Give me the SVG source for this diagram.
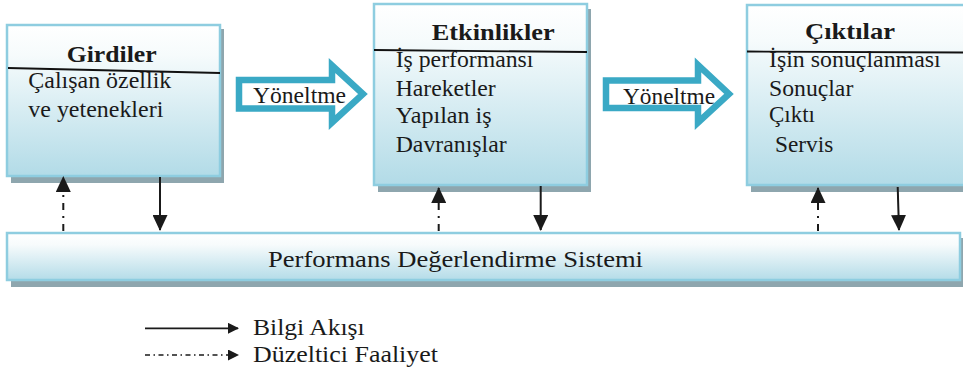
<svg xmlns="http://www.w3.org/2000/svg" width="963" height="376" viewBox="0 0 963 376" font-family="Liberation Serif">
  <defs>
    <linearGradient id="boxFill" x1="0" y1="0" x2="0" y2="1">
      <stop offset="0" stop-color="#ffffff"/>
      <stop offset="0.2" stop-color="#f6fbfc"/>
      <stop offset="1" stop-color="#b2dbe7"/>
    </linearGradient>
    <linearGradient id="barFill" x1="0" y1="0" x2="0" y2="1">
      <stop offset="0" stop-color="#ffffff"/>
      <stop offset="0.25" stop-color="#f7fbfc"/>
      <stop offset="1" stop-color="#b4dce8"/>
    </linearGradient>
    <marker id="head" viewBox="0 0 16 15" refX="15" refY="7.5" markerWidth="16" markerHeight="15" markerUnits="userSpaceOnUse" orient="auto">
      <path d="M0,0 L16,7.5 L0,15 Z" fill="#1a1a1a"/>
    </marker>
    <marker id="headSmall" viewBox="0 0 11 11" refX="10" refY="5.5" markerWidth="11" markerHeight="11" markerUnits="userSpaceOnUse" orient="auto">
      <path d="M0,0 L11,5.5 L0,11 Z" fill="#1a1a1a"/>
    </marker>
  </defs>
  <style>
    .shadow { fill: #8ea6ae; }
    .box { fill: url(#boxFill); stroke: #8ecde0; stroke-width: 2.5; }
    .bar { fill: url(#barFill); stroke: #8ecde0; stroke-width: 2.5; }
    .rule { stroke: #111111; stroke-width: 1.8; fill: none; }
    .title { font-weight: bold; font-size: 24px; fill: #1a1a1a; }
    .txt { font-size: 22.5px; fill: #1a1a1a; }
    .block { fill: #ffffff; stroke: #3aa9c5; stroke-width: 6.5; stroke-linejoin: miter; }
    .info { stroke: #1a1a1a; stroke-width: 2; fill: none; marker-end: url(#head); }
    .fix { stroke: #1a1a1a; stroke-width: 2; fill: none; stroke-dasharray: 7 6 2 6; marker-end: url(#head); }
    .legInfo { stroke: #1a1a1a; stroke-width: 1.8; fill: none; marker-end: url(#headSmall); }
    .legFix { stroke: #1a1a1a; stroke-width: 1.6; fill: none; stroke-dasharray: 5 3.5 1.5 3.5; marker-end: url(#headSmall); }
  </style>

  <!-- Inputs -->
  <g id="girdiler">
    <rect class="shadow" x="11" y="29" width="213" height="154"/>
    <rect class="box" x="7" y="25" width="213" height="151"/>
    <line class="rule" x1="8" y1="68" x2="220" y2="73"/>
    <text class="title" font-family="Liberation Serif" x="66.7" y="61.7" textLength="90" lengthAdjust="spacingAndGlyphs">Girdiler</text>
    <text class="txt" font-family="Liberation Serif" x="28.3" y="88.3" textLength="143" lengthAdjust="spacingAndGlyphs">Çalışan özellik</text>
    <text class="txt" font-family="Liberation Serif" x="28.3" y="117.3" textLength="135" lengthAdjust="spacingAndGlyphs">ve yetenekleri</text>
  </g>

  <!-- Activities -->
  <g id="etkinlikler">
    <rect class="shadow" x="378" y="9" width="213" height="183"/>
    <rect class="box" x="374" y="4" width="213" height="181"/>
    <line class="rule" x1="374" y1="50" x2="587" y2="52"/>
    <text class="title" font-family="Liberation Serif" x="431.7" y="40" textLength="123" lengthAdjust="spacingAndGlyphs">Etkinlikler</text>
    <text class="txt" font-family="Liberation Serif" x="395.7" y="66.7" textLength="137.7" lengthAdjust="spacingAndGlyphs">İş performansı</text>
    <text class="txt" font-family="Liberation Serif" x="395.7" y="95.7" textLength="100" lengthAdjust="spacingAndGlyphs">Hareketler</text>
    <text class="txt" font-family="Liberation Serif" x="395.7" y="122.7" textLength="96" lengthAdjust="spacingAndGlyphs">Yapılan iş</text>
    <text class="txt" font-family="Liberation Serif" x="395.7" y="151.7" textLength="111" lengthAdjust="spacingAndGlyphs">Davranışlar</text>
  </g>

  <!-- Outputs -->
  <g id="ciktilar">
    <rect class="shadow" x="751" y="10" width="230" height="182"/>
    <rect class="box" x="747" y="5" width="230" height="180"/>
    <line class="rule" x1="747" y1="51.5" x2="963" y2="52.5"/>
    <text class="title" font-family="Liberation Serif" x="805" y="39" textLength="90" lengthAdjust="spacingAndGlyphs">Çıktılar</text>
    <text class="txt" font-family="Liberation Serif" x="769" y="66.7" textLength="171.7" lengthAdjust="spacingAndGlyphs">İşin sonuçlanması</text>
    <text class="txt" font-family="Liberation Serif" x="769" y="95.7" textLength="84.3" lengthAdjust="spacingAndGlyphs">Sonuçlar</text>
    <text class="txt" font-family="Liberation Serif" x="769" y="121.7" textLength="46" lengthAdjust="spacingAndGlyphs">Çıktı</text>
    <text class="txt" font-family="Liberation Serif" x="775" y="151.7" textLength="58.3" lengthAdjust="spacingAndGlyphs">Servis</text>
  </g>

  <!-- Evaluation system bar -->
  <g id="sistem">
    <rect class="shadow" x="11" y="238" width="952" height="49"/>
    <rect class="bar" x="7" y="233" width="953" height="47"/>
    <text class="txt" font-family="Liberation Serif" x="268" y="267.3" textLength="375" lengthAdjust="spacingAndGlyphs">Performans Değerlendirme Sistemi</text>
  </g>

  <!-- Direction arrows -->
  <g id="yoneltme1">
    <path class="block" d="M239,80 L332,80 L332,65.5 L363,94 L332,122.5 L332,108.5 L239,108.5 Z"/>
    <text class="txt" font-family="Liberation Serif" x="253" y="103.3" textLength="93" lengthAdjust="spacingAndGlyphs">Yöneltme</text>
  </g>
  <g id="yoneltme2">
    <path class="block" d="M606,80.5 L698,80.5 L698,65 L729,94 L698,122.5 L698,108 L606,108 Z"/>
    <text class="txt" font-family="Liberation Serif" x="623" y="103.5" textLength="92" lengthAdjust="spacingAndGlyphs">Yöneltme</text>
  </g>

  <!-- Information flow and corrective action connectors -->
  <g id="connectors">
    <line class="fix" x1="63.3" y1="231" x2="63.3" y2="177"/>
    <line class="info" x1="160" y1="177" x2="160" y2="230"/>
    <line class="fix" x1="438.7" y1="231" x2="438.7" y2="188"/>
    <line class="info" x1="540.7" y1="186" x2="540.7" y2="230"/>
    <line class="fix" x1="818" y1="231" x2="818" y2="188"/>
    <line class="info" x1="897.7" y1="187" x2="899" y2="230"/>
  </g>

  <!-- Legend -->
  <g id="legend">
    <line class="legInfo" x1="145" y1="328.3" x2="238" y2="328.3"/>
    <text class="txt" font-family="Liberation Serif" x="253" y="335" textLength="111.7" lengthAdjust="spacingAndGlyphs">Bilgi Akışı</text>
    <line class="legFix" x1="145" y1="355" x2="238" y2="355"/>
    <text class="txt" font-family="Liberation Serif" x="253" y="361.7" textLength="185" lengthAdjust="spacingAndGlyphs">Düzeltici Faaliyet</text>
  </g>
</svg>
